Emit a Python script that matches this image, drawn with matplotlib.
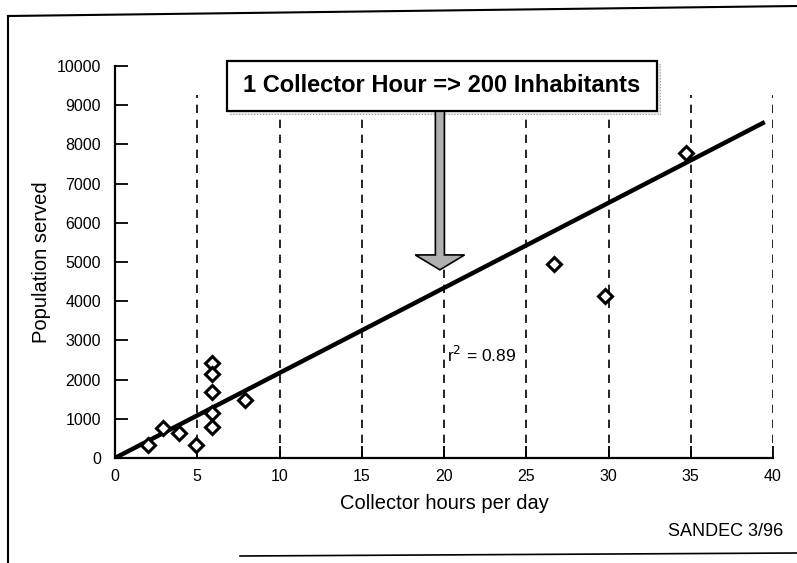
import matplotlib
matplotlib.use("Agg")
import matplotlib.pyplot as plt
from matplotlib.patches import Rectangle, FancyArrow
from matplotlib.lines import Line2D

plt.rcParams['font.family'] = ['Liberation Sans', 'DejaVu Sans']

# Data
hours = [2.0, 2.9, 3.9, 4.9, 5.9, 5.9, 5.9, 5.9, 5.9, 7.9, 26.7, 29.8, 34.7]
population = [330, 765, 640, 330, 2420, 2140, 1690, 1150, 790, 1480, 4950, 4130, 7780]
fit_x = [0, 39.5]
fit_y = [0, 8570]
grid_x = [5, 10, 15, 20, 25, 30, 35, 40]
xticks = [0, 5, 10, 15, 20, 25, 30, 35, 40]
yticks = [0, 1000, 2000, 3000, 4000, 5000, 6000, 7000, 8000, 9000, 10000]
headline = "1 Collector Hour => 200 Inhabitants"
r2_text = "r$^2$ = 0.89"

fig = plt.figure(figsize=(7.97, 5.63), dpi=100)
ax = fig.add_axes([0.1443, 0.1865, 0.8256, 0.6963])
ax.set_xlim(0, 40)
ax.set_ylim(0, 10000)

# dashed verticals
for gx in grid_x:
    ax.plot([gx, gx], [0, 9250], color='black', lw=1.2, ls=(0, (5, 4)), zorder=1)

# regression line
ax.plot(fit_x, fit_y, color='black', lw=3.2, solid_capstyle='butt', zorder=3)

# points
ax.plot(hours, population, ls='none', marker='D', ms=7, mfc='white', mec='black',
        mew=2.2, zorder=4)

# spines
for s in ['top', 'right']:
    ax.spines[s].set_visible(False)
for s in ['left', 'bottom']:
    ax.spines[s].set_linewidth(1.6)
ax.set_xticks(xticks)
ax.set_yticks(yticks)
ax.tick_params(direction='in', length=9, width=1.3, labelsize=11.5)
ax.tick_params(axis='y', pad=10)
ax.tick_params(axis='x', pad=8)

ax.set_xlabel("Collector hours per day", fontsize=14.5, labelpad=7)
ax.set_ylabel("Population served", fontsize=14.5, labelpad=4)

# headline box with shadow
bx0, bx1 = 6.81, 32.95
by0, by1 = 8852, 10128
dx, dy = 0.2, -80
shadow = Rectangle((bx0 + dx, by0 + dy), bx1 - bx0, by1 - by0, facecolor='#e8e8e8',
                   edgecolor='#999999', lw=0.8, ls=':', zorder=5, clip_on=False)
ax.add_patch(shadow)
box = Rectangle((bx0, by0), bx1 - bx0, by1 - by0, facecolor='white',
                edgecolor='black', lw=1.6, zorder=6, clip_on=False)
ax.add_patch(box)
ax.text((bx0 + bx1) / 2, (by0 + by1) / 2, headline, ha='center', va='center',
        fontsize=17, fontweight='bold', zorder=7, clip_on=False)

# arrow
arrow = FancyArrow(19.75, by0, 0, 4800 - by0, width=0.55, head_width=3.0,
                   head_length=380, length_includes_head=True,
                   facecolor='#b0b0b0', edgecolor='black', lw=1.2, zorder=5)
ax.add_patch(arrow)

ax.text(20.2, 2620, r2_text, fontsize=12.5, ha='left', va='center', zorder=5)

fig.text(668 / 797, 1 - 532 / 563, "SANDEC 3/96", fontsize=13, ha='left', va='center')

# page frame
fig.add_artist(Line2D([8 / 797, 797 / 797], [1 - 16 / 563, 1 - 6 / 563],
                      transform=fig.transFigure, color='black', lw=1.5))
fig.add_artist(Line2D([8 / 797, 8 / 797], [1 - 16 / 563, 0],
                      transform=fig.transFigure, color='black', lw=1.5))
fig.add_artist(Line2D([240 / 797, 797 / 797], [1 - 556 / 563, 1 - 553 / 563],
                      transform=fig.transFigure, color='black', lw=1.2))

fig.savefig("out.png", dpi=100)
